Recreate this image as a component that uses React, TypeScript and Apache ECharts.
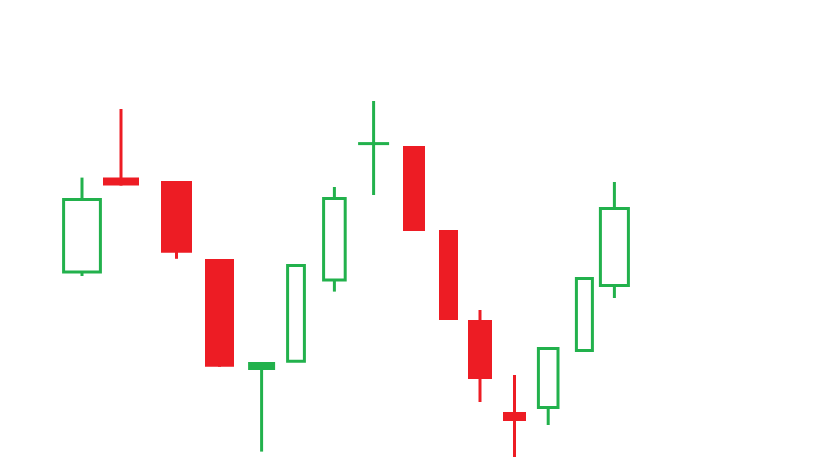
import { useEffect, useRef } from "react";
import * as echarts from "echarts";

// x extent of each candle (time/volume units), and OHLC prices
const xStart = [15.9, 25.75, 40.25, 51.25, 62.4, 71.9, 80.9, 89.9, 100.75, 109.75, 117, 125.75, 134.6, 144.1, 150.1];
const xEnd = [25.1, 34.75, 48, 58.5, 68.4, 76.1, 86.3, 96.9, 106.25, 114.5, 123, 131.5, 139.5, 148.1, 157.1];
const openP = [47.0, 70.6, 69.75, 50.25, 22.9, 24.7, 45.0, 79.1, 78.5, 57.5, 35.0, 12.0, 13.1, 27.4, 43.6];
const closeP = [65.1, 68.6, 51.8, 23.3, 24.1, 48.6, 65.4, 79.1, 57.25, 35.0, 20.25, 9.75, 27.9, 45.4, 62.9];
const lowP = [46.0, 68.6, 50.3, 23.3, 2.1, 24.7, 42.1, 66.25, 57.25, 35.0, 14.5, 0.75, 8.75, 27.4, 40.5];
const highP = [70.6, 87.75, 69.75, 50.25, 24.1, 48.6, 68.25, 89.75, 78.5, 57.5, 37.5, 21.25, 27.9, 45.4, 69.5];

const GREEN = "#22b14c";
const RED = "#ed1c24";

export default function App() {
  const ref = useRef<HTMLDivElement>(null);
  useEffect(() => {
    document.body.style.margin = "0";
    const chart = echarts.init(ref.current!, null, { renderer: "svg" });
    const data = xStart.map((s, i) => [s, xEnd[i], openP[i], closeP[i], lowP[i], highP[i]]);
    chart.setOption({
      animation: false,
      grid: { left: 0, right: 0, top: 0, bottom: 0 },
      xAxis: { type: "value", min: 0, max: 204, show: false },
      yAxis: { type: "value", min: 0, max: 115, show: false },
      series: [
        {
          type: "custom",
          data,
          encode: { x: [0, 1], y: [2, 3, 4, 5] },
          renderItem: (_params: any, api: any) => {
            const x0 = api.value(0);
            const x1 = api.value(1);
            const o = api.value(2);
            const c = api.value(3);
            const l = api.value(4);
            const h = api.value(5);
            const up = c >= o;
            const color = up ? GREEN : RED;
            const pO = api.coord([x0, o]);
            const pC = api.coord([x1, c]);
            const pyL = api.coord([x0, l])[1];
            const pyH = api.coord([x0, h])[1];
            const px0 = pO[0];
            const px1 = pC[0];
            const cx = (px0 + px1) / 2;
            const top = Math.min(pO[1], pC[1]);
            const bottom = Math.max(pO[1], pC[1]);
            const height = Math.max(bottom - top, 0.01);
            return {
              type: "group",
              children: [
                {
                  type: "line",
                  shape: { x1: cx, y1: pyH, x2: cx, y2: pyL },
                  style: { stroke: color, lineWidth: 3 },
                },
                {
                  type: "rect",
                  shape: { x: px0, y: top, width: px1 - px0, height },
                  style: up
                    ? { fill: height < 6 ? color : "#ffffff", stroke: color, lineWidth: 3 }
                    : { fill: color },
                },
              ],
            };
          },
        },
      ],
    });
    return () => chart.dispose();
  }, []);
  return <div ref={ref} style={{ width: 816, height: 460 }} />;
}
